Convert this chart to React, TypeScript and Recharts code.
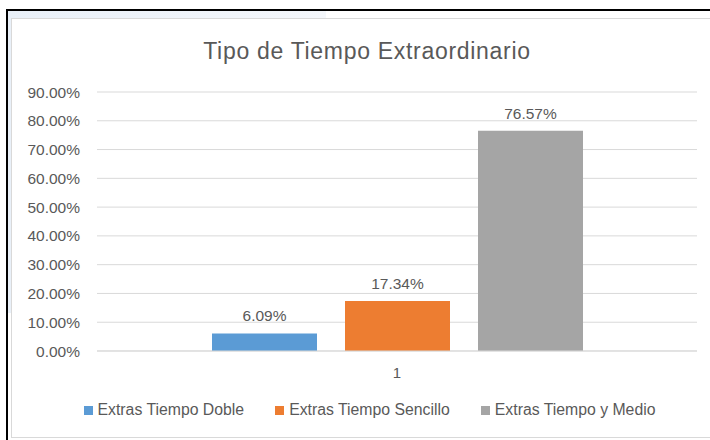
import React from 'react';
import {
  BarChart,
  Bar,
  XAxis,
  YAxis,
  CartesianGrid,
  Legend,
  LabelList,
} from 'recharts';

const categories = ['1'];
const seriesNames = ['Extras Tiempo Doble', 'Extras Tiempo Sencillo', 'Extras Tiempo y Medio'];
const tiempoDoble = [0.0609];
const tiempoSencillo = [0.1734];
const tiempoYMedio = [0.7657];
const yTicks = [0, 0.1, 0.2, 0.3, 0.4, 0.5, 0.6, 0.7, 0.8, 0.9];

const colors = ['#5B9BD5', '#ED7D31', '#A5A5A5'];
const keys = ['doble', 'sencillo', 'medio'];
const textColor = '#595959';
const font = '"Liberation Sans", Arial, sans-serif';

const chartData = categories.map((name, i) => ({
  name,
  doble: tiempoDoble[i],
  sencillo: tiempoSencillo[i],
  medio: tiempoYMedio[i],
}));

const pct = (v: number) => `${(v * 100).toFixed(2)}%`;

const renderLegend = () => (
  <div
    style={{
      height: 38,
      display: 'flex',
      alignItems: 'center',
      justifyContent: 'center',
      paddingLeft: 42,
      boxSizing: 'border-box',
      fontFamily: font,
      fontSize: 15.8,
      color: textColor,
    }}
  >
    {seriesNames.map((name, i) => (
      <div key={name} style={{ display: 'flex', alignItems: 'center', marginRight: i < 2 ? 31 : 0 }}>
        <span style={{ width: 9, height: 9, background: colors[i], marginRight: 5, display: 'inline-block' }} />
        <span>{name}</span>
      </div>
    ))}
  </div>
);

export default function App() {
  return (
    <div style={{ position: 'absolute', left: 0, top: 0, width: 710, height: 440, background: '#fff', overflow: 'hidden' }}>
      {/* frame */}
      <div style={{ position: 'absolute', left: 6, top: 9, width: 720, height: 440, border: '2px solid #000', boxSizing: 'border-box' }} />
      <div style={{ position: 'absolute', left: 8, top: 11, width: 318, height: 7, background: 'linear-gradient(to right, #e9f0f8, #f4f7fb)' }} />
      <div style={{ position: 'absolute', left: 8, top: 11, width: 3, height: 302, background: '#e9f0f8' }} />
      <div style={{ position: 'absolute', left: 11, top: 18, width: 720, height: 420, border: '1px solid #D9D9D9', boxSizing: 'border-box' }} />
      <div
        style={{
          position: 'absolute',
          left: 0,
          width: 734,
          top: 37,
          textAlign: 'center',
          fontFamily: font,
          fontSize: 23,
          letterSpacing: 0.7,
          lineHeight: '28px',
          color: textColor,
        }}
      >
        Tipo de Tiempo Extraordinario
      </div>
      <div style={{ position: 'absolute', left: 0, top: 0 }}>
        <BarChart
          width={710}
          height={440}
          data={chartData}
          margin={{ top: 92, right: 13, bottom: 11, left: 0 }}
          barCategoryGap={115}
          barGap={28}
        >
          <CartesianGrid vertical={false} stroke="#D9D9D9" />
          <XAxis
            dataKey="name"
            height={40}
            axisLine={{ stroke: '#D9D9D9' }}
            tickLine={false}
            tickMargin={10}
            tick={{ fill: textColor, fontSize: 15, fontFamily: font }}
          />
          <YAxis
            width={97}
            domain={[0, 0.9]}
            ticks={yTicks}
            axisLine={false}
            tickLine={false}
            tickMargin={11}
            tickFormatter={pct}
            tick={{ fill: textColor, fontSize: 15.5, fontFamily: font }}
          />
          <Legend verticalAlign="bottom" height={38} content={renderLegend} />
          {keys.map((k, i) => (
            <Bar key={k} dataKey={k} name={seriesNames[i]} fill={colors[i]} isAnimationActive={false}>
              <LabelList
                dataKey={k}
                position="top"
                offset={12}
                formatter={(v: any) => pct(Number(v))}
                fill={textColor}
                fontSize={15.5}
                fontFamily={font}
              />
            </Bar>
          ))}
        </BarChart>
      </div>
    </div>
  );
}
